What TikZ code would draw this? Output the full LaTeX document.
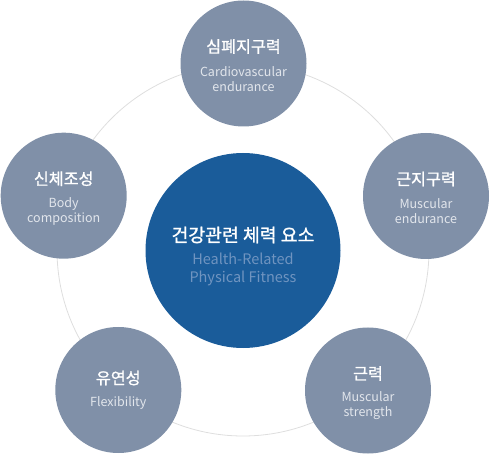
\documentclass[tikz,border=0pt]{standalone}
\usepackage{fontspec}
\setmainfont{Noto Sans CJK KR}
\newfontfamily\korfont[FakeBold=1.2]{Noto Sans CJK KR}
\definecolor{outerfill}{HTML}{8090A8}
\definecolor{centerfill}{HTML}{1A5C9A}
\definecolor{ringcol}{HTML}{DEDEDE}
\definecolor{entxt}{HTML}{E2E6EC}
\definecolor{centeren}{HTML}{6F94C0}
\tikzset{
  outer/.style={circle, fill=outerfill, minimum size=126pt, inner sep=0pt},
  centre/.style={circle, fill=centerfill, minimum size=195pt, inner sep=0pt},
  ringshape/.style={circle, draw=ringcol, line width=0.8pt, minimum size=372pt, inner sep=0pt},
  kor/.style={text=white, font=\korfont\fontsize{16.2}{19}\selectfont, inner sep=0pt},
  eng/.style={text=entxt, font=\fontsize{12.5}{15}\selectfont, align=center, inner sep=0pt},
  ckor/.style={text=white, font=\korfont\fontsize{18.3}{22}\selectfont, inner sep=0pt},
  ceng/.style={text=centeren, font=\fontsize{14.5}{18}\selectfont, align=center, inner sep=0pt}
}
\begin{document}
\begin{tikzpicture}[x=1pt, y=-1pt]
\useasboundingbox (0,0) rectangle (490,454);
\node[ringshape] (ring) at (243,250) {};
\node[centre] (c) at (243,250.5) {};
\node[outer] (top) at (243.5,63.5) {};
\node[outer] (left) at (63.7,195.7) {};
\node[outer] (right) at (426,196) {};
\node[outer] (bl) at (118.3,390) {};
\node[outer] (br) at (368,390.5) {};
% centre texts
\node[ckor] (ck) at ([yshift=15.5pt]c.center) {건강관련 체력 요소};
\node[ceng] (ce) at ([yshift=-19pt]c.center) {Health-Related\\Physical Fitness};
% top
\node[kor] (tk) at ([yshift=17pt]top.center) {심폐지구력};
\node[eng] (te) at ([yshift=-15.5pt]top.center) {Cardiovascular\\endurance};
% left
\node[kor] (lk) at ([yshift=17pt]left.center) {신체조성};
\node[eng] (le) at ([yshift=-15.5pt]left.center) {Body\\composition};
% right
\node[kor] (rk) at ([yshift=17pt]right.center) {근지구력};
\node[eng] (re) at ([yshift=-15.5pt]right.center) {Muscular\\endurance};
% bottom right
\node[kor] (brk) at ([yshift=17pt]br.center) {근력};
\node[eng] (bre) at ([yshift=-15.5pt]br.center) {Muscular\\strength};
% bottom left
\node[kor] (blk) at ([yshift=12pt]bl.center) {유연성};
\node[eng] (ble) at ([yshift=-13pt]bl.center) {Flexibility};
\end{tikzpicture}
\end{document}
